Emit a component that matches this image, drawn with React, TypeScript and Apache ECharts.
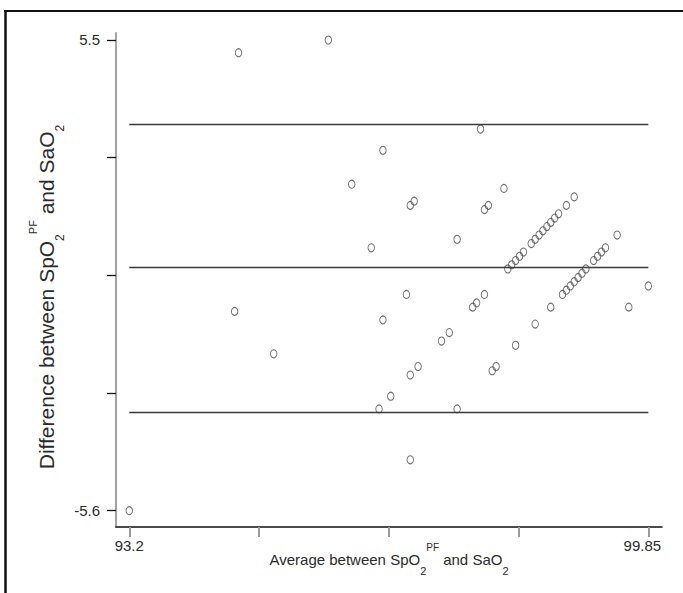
import React, { useEffect, useRef } from "react";
import * as echarts from "echarts";

// Average between SpO2PF and SaO2 (x) and their difference (y), one pair per point
const averageValues = [
  93.2, 94.6, 94.55, 95.05, 95.75, 96.05, 96.3, 96.4, 96.45, 96.45,
  96.55, 96.75, 96.8, 96.85, 96.8, 96.9, 96.8, 97.2, 97.3, 97.4,
  97.4, 97.6, 97.65, 97.7, 97.75, 97.8, 97.75, 97.85, 97.9, 98.0,
  98.15, 98.4, 98.6,
  98.05, 98.1, 98.15, 98.2, 98.25, 98.35, 98.4, 98.45, 98.5, 98.55,
  98.6, 98.65, 98.7, 98.8, 98.9,
  98.75, 98.8, 98.85, 98.9, 98.95, 99.0, 99.05, 99.15, 99.2, 99.25,
  99.3, 99.45,
  99.6, 99.85,
];
const differenceValues = [
  -5.6, 5.2, -0.9, -1.9, 5.5, 2.1, 0.6, -3.2, 2.9, -1.1,
  -2.9, -0.5, 1.6, 1.7, -2.4, -2.2, -4.4, -1.6, -1.4, 0.8,
  -3.2, -0.8, -0.7, 3.4, 1.5, 1.6, -0.5, -2.3, -2.2, 2.0,
  -1.7, -1.2, -0.8,
  0.1, 0.2, 0.3, 0.4, 0.5, 0.7, 0.8, 0.9, 1.0, 1.1,
  1.2, 1.3, 1.4, 1.6, 1.8,
  -0.5, -0.4, -0.3, -0.2, -0.1, 0.0, 0.1, 0.3, 0.4, 0.5,
  0.6, 0.9,
  -0.8, -0.3,
];

// upper limit of agreement, mean difference, lower limit of agreement
const limitValues = [3.52, 0.13, -3.28];

const xTickValues = [93.2, 94.8625, 96.525, 98.1875, 99.85];
const xLabelValues = [93.2, 99.85];
const yTickValues = [-5.6, -2.825, -0.05, 2.725, 5.5];
const yLabelValues = [-5.6, 5.5];
const xRange = [93.03, 100.025];
const yRange = [-5.985, 5.665];

const SANS = "'Liberation Sans', Arial, sans-serif";
const TEXT = "#2b2b2b";

export default function App() {
  const ref = useRef<HTMLDivElement>(null);

  useEffect(() => {
    if (!ref.current) return;
    const chart = echarts.init(ref.current, undefined, { renderer: "svg" });
    const points = averageValues.map((x, i) => [x, differenceValues[i]]);
    const lastX = xLabelValues[xLabelValues.length - 1];

    chart.setOption({
      animation: false,
      backgroundColor: "#ffffff",
      grid: {
        left: 116,
        right: 21,
        top: 33,
        bottom: 66,
        containLabel: false,
        outerBoundsMode: "none",
      },
      graphic: [
        {
          type: "line",
          shape: { x1: 4, y1: 11, x2: 683, y2: 11 },
          style: { stroke: "#111111", lineWidth: 2 },
          silent: true,
        },
        {
          type: "line",
          shape: { x1: 5.5, y1: 10, x2: 5.5, y2: 593 },
          style: { stroke: "#111111", lineWidth: 2.5 },
          silent: true,
        },
      ],
      xAxis: {
        type: "value",
        min: xRange[0],
        max: xRange[1],
        position: "bottom",
        splitLine: { show: false },
        axisLine: { show: true, onZero: false, lineStyle: { color: "#111111", width: 1.5 } },
        axisTick: {
          show: true,
          length: 10,
          customValues: xTickValues,
          lineStyle: { color: "#9a9a9a", width: 2 },
        },
        axisLabel: {
          customValues: xLabelValues,
          formatter: (v: number) =>
            Math.abs(v - lastX) < 1e-9 ? "{r|" + String(v) + "}" : String(v),
          margin: 11,
          fontFamily: SANS,
          fontSize: 15,
          color: TEXT,
          rich: {
            r: { fontFamily: SANS, fontSize: 15, color: TEXT, padding: [0, 12, 0, 0] },
          },
        },
        name: "{m|Average between SpO}{sub|2}{sup|PF}{m| and SaO}{sub|2}",
        nameLocation: "middle",
        nameGap: 15.5,
        nameMoveOverlap: false,
        nameTextStyle: {
          fontFamily: SANS,
          fontSize: 15,
          color: TEXT,
          rich: {
            m: { fontFamily: SANS, fontSize: 15, lineHeight: 34, color: TEXT },
            sub: { fontFamily: SANS, fontSize: 11, lineHeight: 12, verticalAlign: "bottom", color: TEXT },
            sup: { fontFamily: SANS, fontSize: 10, lineHeight: 11, verticalAlign: "top", color: TEXT },
          },
        },
      },
      yAxis: {
        type: "value",
        min: yRange[0],
        max: yRange[1],
        position: "left",
        splitLine: { show: false },
        axisLine: { show: true, onZero: false, lineStyle: { color: "#a3a3a3", width: 2 } },
        axisTick: {
          show: true,
          length: 9,
          customValues: yTickValues,
          lineStyle: { color: "#111111", width: 1.3 },
        },
        axisLabel: {
          customValues: yLabelValues,
          formatter: (v: number) => String(v),
          margin: 16,
          fontFamily: SANS,
          fontSize: 15,
          color: TEXT,
        },
        name: "{m|Difference between SpO}{sub|2}{sup|PF}{m| and SaO}{sub|2}",
        nameLocation: "middle",
        nameRotate: 90,
        nameGap: 50.5,
        nameMoveOverlap: false,
        nameTextStyle: {
          fontFamily: SANS,
          fontSize: 21,
          color: TEXT,
          padding: [0, 34, 0, 0],
          rich: {
            m: { fontFamily: SANS, fontSize: 21, lineHeight: 38, color: TEXT },
            sub: { fontFamily: SANS, fontSize: 12, lineHeight: 18, verticalAlign: "bottom", color: TEXT },
            sup: { fontFamily: SANS, fontSize: 11, lineHeight: 11, verticalAlign: "top", color: TEXT },
          },
        },
      },
      series: [
        {
          type: "scatter",
          data: points,
          symbol: "circle",
          symbolSize: [6.5, 8],
          itemStyle: { color: "rgba(0,0,0,0)", borderColor: "#4a4a4a", borderWidth: 1 },
          emphasis: { disabled: true },
          silent: true,
          markLine: {
            silent: true,
            symbol: ["none", "none"],
            label: { show: false },
            emphasis: { disabled: true },
            lineStyle: { color: "#3a3a3a", width: 1.3, type: "solid" },
            data: limitValues.map((v) => [
              { coord: [xLabelValues[0], v] },
              { coord: [xLabelValues[1], v] },
            ]),
          },
        },
      ],
    });

    return () => chart.dispose();
  }, []);

  return (
    <div
      ref={ref}
      style={{ position: "fixed", left: 0, top: 0, width: 683, height: 593, background: "#fff" }}
    />
  );
}
